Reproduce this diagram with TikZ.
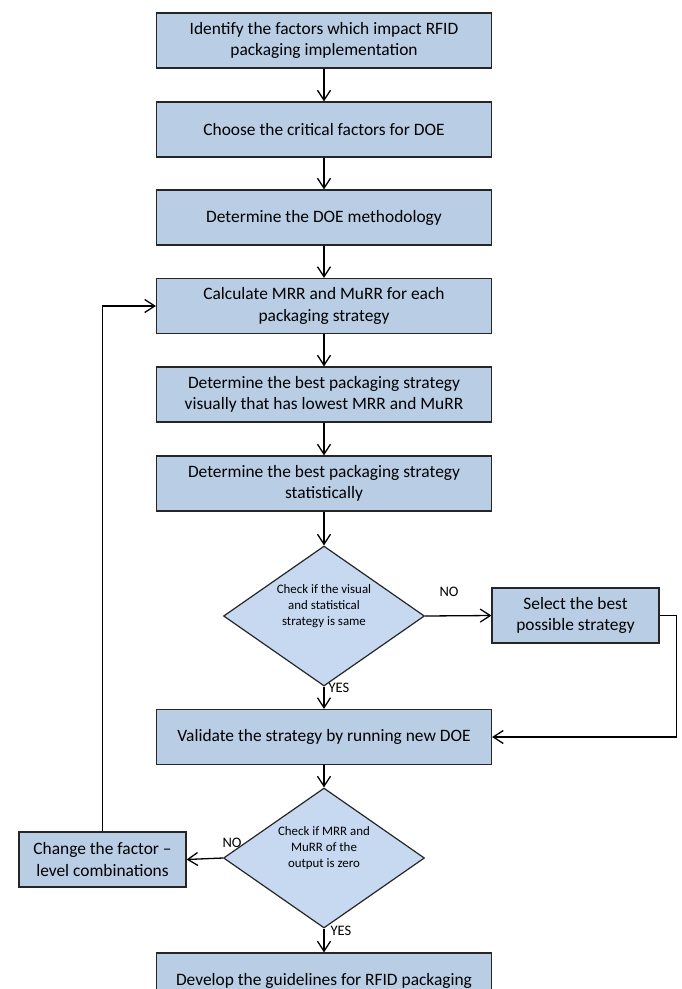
\documentclass[tikz,border=0pt]{standalone}
\usepackage{fontspec}
\setmainfont{Carlito}
\usetikzlibrary{arrows.meta,shapes.geometric}
\definecolor{boxblue}{RGB}{185,205,229}
\definecolor{diablue}{RGB}{198,217,241}
\tikzset{
	stepbox/.style={draw=black!85, line width=1.2pt, fill=boxblue, minimum width=335pt, minimum height=55pt, align=center, inner sep=2pt, font=\fontsize{17.4}{21.7}\selectfont},
	sidebox/.style={stepbox, minimum width=167pt},
	checkbox/.style={diamond, draw=black!85, line width=1.2pt, fill=diablue, aspect=1.44, minimum width=201pt, minimum height=140pt, inner sep=0pt, align=center, text depth=22pt, font=\fontsize{12.9}{16}\selectfont},
	answer/.style={font=\fontsize{14.5}{17}\selectfont},
	flow/.style={line width=1.3pt, -{Straight Barb[length=10pt,width=13pt]}}
}

\begin{document}
\begin{tikzpicture}[x=1pt, y=-1pt]
			%%%%% START %%%%%
			\useasboundingbox (0, 0) rectangle (681, 989);
			\clip (0, 0) rectangle (681, 989);
			
			\node[stepbox] (ident) at (324, 40.5) {Identify the factors which impact RFID\\packaging implementation};
			\node[stepbox] (choose) at (324, 129.5) {Choose the critical factors for DOE};
			\node[stepbox] (method) at (324, 217.5) {Determine the DOE methodology};
			\node[stepbox] (calc) at (324, 306) {Calculate MRR and MuRR for each\\packaging strategy};
			\node[stepbox] (visual) at (324, 394.5) {Determine the best packaging strategy\\visually that has lowest MRR and MuRR};
			\node[stepbox] (stat) at (324, 483.5) {Determine the best packaging strategy\\statistically};
			
			\node[checkbox] (check1) at (324, 616) {Check if the visual\\and statistical\\strategy is same};
			\node[sidebox] (select) at (575.5, 615.5) {Select the best\\possible strategy};
			\node[stepbox] (validate) at (324, 737) {Validate the strategy by running new DOE};
			
			\node[answer] (no2) at (232, 843) {NO};
			\node[checkbox] (check2) at (324, 858) {Check if MRR and\\MuRR of the\\output is zero};
			\node[sidebox] (change) at (102.5, 859.5) {Change the factor --\\level combinations};
			\node[stepbox] (develop) at (324, 980.5) {Develop the guidelines for RFID packaging};
			
			\node[answer] (no1) at (449, 592) {NO};
			\node[answer] (yes1) at (339, 688) {YES};
			\node[answer] (yes2) at (341, 931) {YES};
			
			\draw[flow] (ident) -- (choose);
			\draw[flow] (choose) -- (method);
			\draw[flow] (method) -- (calc);
			\draw[flow] (calc) -- (visual);
			\draw[flow] (visual) -- (stat);
			\draw[flow] (stat) -- (check1.north);
			\draw[flow] (check1.east) -- (select.west);
			\draw[flow] (check1.south) -- (validate.north);
			\draw[flow] (select.east) -- ++(17, 0) |- (validate.east);
			\draw[flow] (validate) -- (check2.north);
			\draw[flow] (check2.west) -- (change.east);
			\draw[flow] (change.north) |- (calc.west);
			\draw[flow] (check2.south) -- (develop.north);
			
			%%%%% END %%%%%
\end{tikzpicture}
\end{document}
